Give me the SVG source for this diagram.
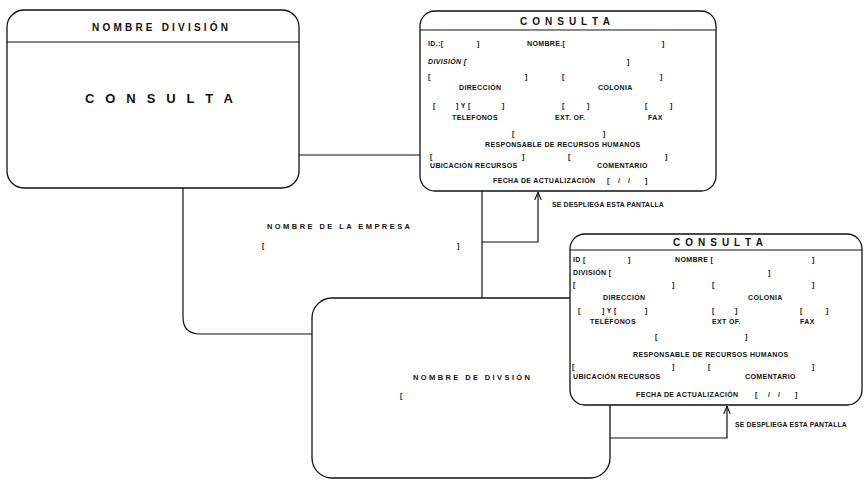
<svg xmlns="http://www.w3.org/2000/svg" width="864" height="481" viewBox="0 0 864 481">
<style>
.box{fill:#fff;stroke:#111;stroke-width:1.3}
.ln{fill:none;stroke:#111;stroke-width:1.2}
text{font-family:"Liberation Sans",Arial,sans-serif;fill:#111;font-weight:bold}
.f{font-size:7px;letter-spacing:0.35px}
.s{font-size:6.8px;letter-spacing:0.2px}
.hd{font-size:10px}
.big{font-size:13px}
.lb{font-size:7.5px}
.it{font-style:italic}
</style>
<defs>
<marker id="arr" viewBox="0 0 10 10" refX="10" refY="5" markerWidth="7" markerHeight="7" orient="auto">
<path d="M0,1 L10,5 L0,9" fill="none" stroke="#111" stroke-width="1.3"/>
</marker>
</defs>

<g id="connectors">
<path class="ln" d="M299,155 H420"/>
<path class="ln" d="M183,188 V317 Q183,334 200,334 H312"/>
<path class="ln" d="M482,191 V298"/>
<path class="ln" d="M482,242 H538 V192" marker-end="url(#arr)"/>
<path class="ln" d="M610,438 H727 V406" marker-end="url(#arr)"/>
</g>

<g id="nombre-division">
<rect class="box" x="7" y="10" width="292" height="178" rx="17"/>
<line class="ln" x1="7" y1="42" x2="299" y2="42"/>
<text class="hd" x="92" y="31" textLength="136" lengthAdjust="spacing">NOMBRE  DIVISIÓN</text>
<text class="big" x="85" y="103" textLength="148" lengthAdjust="spacing">C O N S U L T A</text>
</g>

<g id="nombre-empresa">
<text class="lb" x="267" y="229" textLength="143" lengthAdjust="spacing">NOMBRE DE LA EMPRESA</text>
<text class="f" x="262" y="248">[</text>
<text class="f" x="457" y="248">]</text>
</g>

<g id="nombre-de-division">
<rect class="box" x="312" y="298" width="298" height="180" rx="20"/>
<text class="lb" x="413" y="380" textLength="117" lengthAdjust="spacing">NOMBRE DE DIVSIÓN</text>
<text class="f" x="400" y="398">[</text>
</g>

<g id="consulta-1">
<rect class="box" x="420" y="11" width="296" height="180" rx="15"/>
<line class="ln" x1="420" y1="30" x2="716" y2="30"/>
<text class="hd" x="520" y="25" textLength="90" lengthAdjust="spacing">C O N S U L T A</text>
<text class="f" x="428" y="46">ID.:[</text>
<text class="f" x="477" y="46">]</text>
<text class="f" x="527" y="46">NOMBRE.[</text>
<text class="f" x="662" y="46">]</text>
<text class="f it" x="428" y="63.5">DIVISIÓN [</text>
<text class="f" x="627" y="63.5">]</text>
<text class="f" x="428" y="78.5">[</text>
<text class="f" x="525" y="78.5">]</text>
<text class="f" x="562" y="78.5">[</text>
<text class="f" x="660" y="78.5">]</text>
<text class="f" x="459" y="90">DIRECCIÓN</text>
<text class="f" x="598" y="90">COLONIA</text>
<text class="f" x="433" y="107.5">[</text>
<text class="f" x="456" y="107.5">] Y [</text>
<text class="f" x="502" y="107.5">]</text>
<text class="f" x="562" y="107.5">[</text>
<text class="f" x="587" y="107.5">]</text>
<text class="f" x="645" y="107.5">[</text>
<text class="f" x="670" y="107.5">]</text>
<text class="f" x="452" y="120">TELEFONOS</text>
<text class="f" x="555" y="120">EXT. OF.</text>
<text class="f" x="648" y="120">FAX</text>
<text class="f" x="512" y="136">[</text>
<text class="f" x="603" y="136">]</text>
<text class="f" x="485" y="147">RESPONSABLE DE RECURSOS HUMANOS</text>
<text class="f" x="430" y="158.5">[</text>
<text class="f" x="522" y="158.5">]</text>
<text class="f" x="568" y="158.5">[</text>
<text class="f" x="665" y="158.5">]</text>
<text class="f" x="430" y="168">UBICACIÓN RECURSOS</text>
<text class="f" x="597" y="168">COMENTARIO</text>
<text class="f" x="493" y="182.5">FECHA DE ACTUALIZACIÓN</text>
<text class="f" x="607" y="182.5">[</text>
<text class="f" x="618" y="182.5">/</text>
<text class="f" x="628" y="182.5">/</text>
<text class="f" x="645" y="182.5">]</text>
<text class="s" x="552" y="207">SE DESPLIEGA ESTA PANTALLA</text>
</g>

<g id="consulta-2">
<rect class="box" x="570" y="234" width="292" height="171" rx="15"/>
<line class="ln" x1="570" y1="250" x2="862" y2="250"/>
<text class="hd" x="673" y="246" textLength="90" lengthAdjust="spacing">C O N S U L T A</text>
<text class="f" x="573" y="261.5">ID [</text>
<text class="f" x="628" y="261.5">]</text>
<text class="f" x="675" y="261.5">NOMBRE [</text>
<text class="f" x="812" y="261.5">]</text>
<text class="f" x="573" y="274.5">DIVISIÓN [</text>
<text class="f" x="768" y="274.5">]</text>
<text class="f" x="573" y="286.5">[</text>
<text class="f" x="672" y="286.5">]</text>
<text class="f" x="712" y="286.5">[</text>
<text class="f" x="812" y="286.5">]</text>
<text class="f" x="603" y="299.5">DIRECCIÓN</text>
<text class="f" x="748" y="299.5">COLONIA</text>
<text class="f" x="578" y="312.5">[</text>
<text class="f" x="602" y="312.5">] Y [</text>
<text class="f" x="645" y="312.5">]</text>
<text class="f" x="712" y="312.5">[</text>
<text class="f" x="735" y="312.5">]</text>
<text class="f" x="800" y="312.5">[</text>
<text class="f" x="826" y="312.5">]</text>
<text class="f" x="590" y="323.5">TELÉFONOS</text>
<text class="f" x="712" y="323.5">EXT OF.</text>
<text class="f" x="800" y="323.5">FAX</text>
<text class="f" x="655" y="338.5">[</text>
<text class="f" x="745" y="338.5">]</text>
<text class="f" x="633" y="356.5">RESPONSABLE DE RECURSOS HUMANOS</text>
<text class="f" x="572" y="368.5">[</text>
<text class="f" x="672" y="368.5">]</text>
<text class="f" x="708" y="368.5">[</text>
<text class="f" x="812" y="368.5">]</text>
<text class="f" x="573" y="378.5">UBICACIÓN RECURSOS</text>
<text class="f" x="745" y="378.5">COMENTARIO</text>
<text class="f" x="636" y="396.5">FECHA DE ACTUALIZACIÓN</text>
<text class="f" x="755" y="396.5">[</text>
<text class="f" x="768" y="396.5">/</text>
<text class="f" x="778" y="396.5">/</text>
<text class="f" x="795" y="396.5">]</text>
<text class="s" x="735" y="427">SE DESPLIEGA ESTA PANTALLA</text>
</g>
</svg>
